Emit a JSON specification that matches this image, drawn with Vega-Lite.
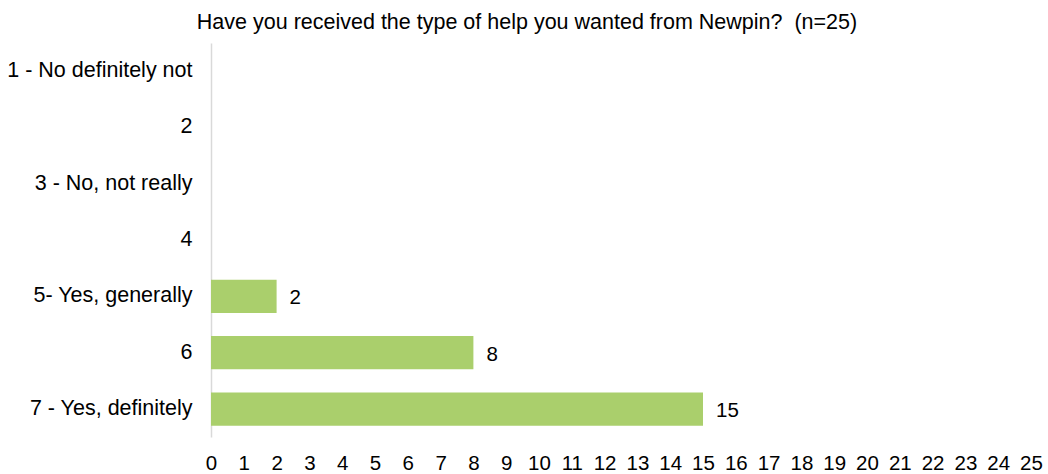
{
  "$schema": "https://vega.github.io/schema/vega-lite/v6.json",
  "width": 820,
  "height": 394,
  "autosize": "none",
  "padding": {"left": 211, "top": 43, "right": 17, "bottom": 37},
  "background": "white",
  "title": {
    "text": "Have you received the type of help you wanted from Newpin?\u00a0\u00a0(n=25)",
    "font": "Liberation Sans",
    "fontSize": 21.5,
    "fontWeight": "normal",
    "color": "#000000",
    "anchor": "middle",
    "dx": -94,
    "offset": 10
  },
  "data": {
    "values": [
      {"cat": "1 - No definitely not", "n": 0},
      {"cat": "2", "n": 0},
      {"cat": "3 - No, not really", "n": 0},
      {"cat": "4", "n": 0},
      {"cat": "5- Yes, generally", "n": 2},
      {"cat": "6", "n": 8},
      {"cat": "7 - Yes, definitely", "n": 15}
    ]
  },
  "encoding": {
    "y": {
      "field": "cat",
      "type": "nominal",
      "sort": null,
      "title": null,
      "scale": {"paddingInner": 0.41, "paddingOuter": 0.2},
      "axis": {
        "domainColor": "#d9d9d9",
        "domainWidth": 1.5,
        "ticks": false,
        "labelFont": "Liberation Sans",
        "labelFontSize": 21.5,
        "labelColor": "#000000",
        "labelPadding": 19,
        "labelLimit": 300
      }
    },
    "x": {
      "field": "n",
      "type": "quantitative",
      "title": null,
      "scale": {"domain": [0, 25]},
      "axis": {
        "values": [0,1,2,3,4,5,6,7,8,9,10,11,12,13,14,15,16,17,18,19,20,21,22,23,24,25],
        "grid": false,
        "domain": false,
        "ticks": false,
        "labelFont": "Liberation Sans",
        "labelFontSize": 20.5,
        "labelColor": "#000000",
        "labelPadding": 16,
        "labelFlush": false,
        "labelOverlap": false
      }
    }
  },
  "layer": [
    {"mark": {"type": "bar", "color": "#AACF6C"}},
    {
      "transform": [{"filter": "datum.n > 0"}],
      "mark": {"type": "text", "align": "left", "dx": 13, "dy": 2, "font": "Liberation Sans", "fontSize": 20.5, "color": "#000000"},
      "encoding": {"text": {"field": "n"}}
    }
  ],
  "config": {"view": {"stroke": null}}
}
